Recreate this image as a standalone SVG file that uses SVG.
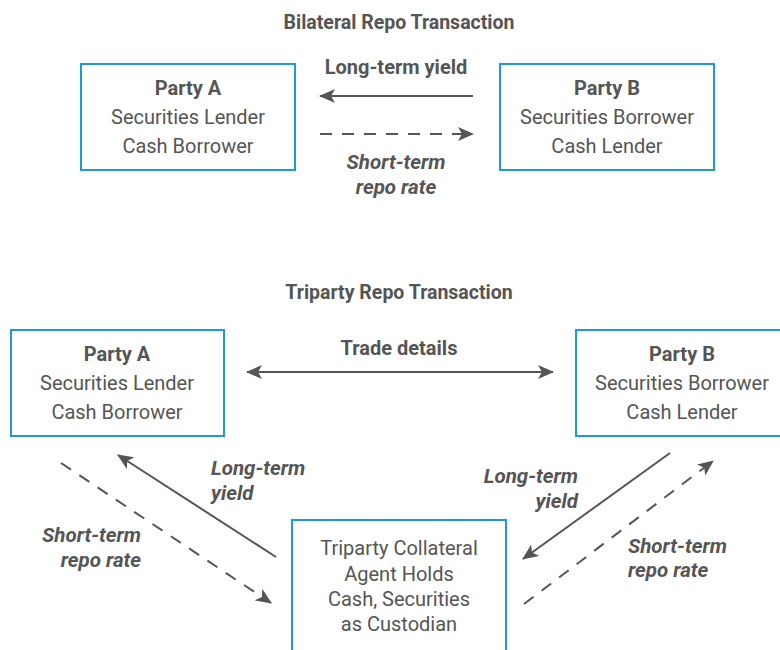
<svg xmlns="http://www.w3.org/2000/svg" width="780" height="650" viewBox="0 0 780 650">
<defs>
<marker id="ah" markerUnits="userSpaceOnUse" markerWidth="16" markerHeight="14" viewBox="0 0 16 14" refX="15" refY="7" orient="auto">
<path d="M0,0 L16,7 L0,14 L4,7 z" fill="#555"/>
</marker>
<style>
text{font-family:Roboto,"Liberation Sans",sans-serif;fill:#555;text-anchor:middle}
.t{font-size:19.5px;font-weight:bold}
.h{font-size:20px;font-weight:bold}
.n{font-size:20px}
.l{font-size:20px;font-weight:bold}
.i{font-size:20.5px;font-weight:bold;font-style:italic}
.box{fill:#fff;stroke:#1a9ad9;stroke-width:2}
.c{stroke:#555;stroke-width:2;fill:none;marker-end:url(#ah)}
.d{stroke-dasharray:12 10}
</style>
</defs>
<rect width="780" height="650" fill="#fff"/>
<text class="t" x="399" y="29">Bilateral Repo Transaction</text>
<text class="t" x="399" y="299">Triparty Repo Transaction</text>
<g id="bA">
<rect class="box" x="81" y="64" width="214" height="106"/>
<text class="h" x="188" y="95">Party A</text>
<text class="n" x="188" y="124">Securities Lender</text>
<text class="n" x="188" y="153">Cash Borrower</text>
</g>
<g id="bB">
<rect class="box" x="500" y="64" width="214" height="106"/>
<text class="h" x="607" y="95">Party B</text>
<text class="n" x="607" y="124">Securities Borrower</text>
<text class="n" x="607" y="153">Cash Lender</text>
</g>
<g id="tA">
<rect class="box" x="11" y="330" width="213" height="106"/>
<text class="h" x="117" y="361">Party A</text>
<text class="n" x="117" y="390">Securities Lender</text>
<text class="n" x="117" y="419">Cash Borrower</text>
</g>
<g id="tB">
<rect class="box" x="576" y="330" width="214" height="106"/>
<text class="h" x="682" y="361">Party B</text>
<text class="n" x="682" y="390">Securities Borrower</text>
<text class="n" x="682" y="419">Cash Lender</text>
</g>
<g id="tC">
<rect class="box" x="292" y="520" width="214" height="140"/>
<text class="n" x="399" y="555">Triparty Collateral</text>
<text class="n" x="399" y="581">Agent Holds</text>
<text class="n" x="399" y="606">Cash, Securities</text>
<text class="n" x="399" y="631">as Custodian</text>
</g>
<g id="connectors">
<line class="c" x1="473" y1="96" x2="320" y2="96"/>
<line class="c d" x1="320" y1="134" x2="473" y2="134"/>
<line class="c" x1="400" y1="372" x2="553" y2="372"/>
<line class="c" x1="400" y1="372" x2="247" y2="372"/>
<line class="c" x1="276" y1="557" x2="118" y2="455"/>
<line class="c d" x1="61" y1="463" x2="271" y2="603"/>
<line class="c" x1="670" y1="453" x2="523" y2="559"/>
<line class="c d" x1="524" y1="604" x2="713" y2="461"/>
</g>
<g id="labels">
<text class="l" x="396" y="74">Long-term yield</text>
<text class="i" x="396" y="169">Short-term</text>
<text class="i" x="396" y="194">repo rate</text>
<text class="l" x="399" y="355">Trade details</text>
<text class="i" x="211" y="475" style="text-anchor:start">Long-term</text>
<text class="i" x="211" y="500" style="text-anchor:start">yield</text>
<text class="i" x="141" y="542" style="text-anchor:end">Short-term</text>
<text class="i" x="141" y="567" style="text-anchor:end">repo rate</text>
<text class="i" x="578" y="483" style="text-anchor:end">Long-term</text>
<text class="i" x="578" y="508" style="text-anchor:end">yield</text>
<text class="i" x="628" y="553" style="text-anchor:start">Short-term</text>
<text class="i" x="628" y="577" style="text-anchor:start">repo rate</text>
</g>
</svg>
